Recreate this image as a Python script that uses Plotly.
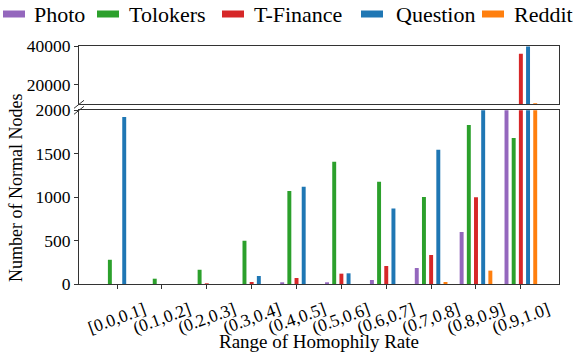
import plotly.graph_objects as go

# homophily-rate bins
bins = ["[0.0,0.1]", "(0.1,0.2]", "(0.2,0.3]", "(0.3,0.4]", "(0.4,0.5]",
        "(0.5,0.6]", "(0.6,0.7]", "(0.7,0.8]", "(0.8,0.9]", "(0.9,1.0]"]

# normal-node counts per dataset
photo = [0, 0, 0, 0, 15, 15, 46, 184, 599, 5000]
tolokers = [279, 61, 164, 497, 1071, 1409, 1178, 1002, 1831, 1682]
tfinance = [0, 0, 5, 23, 69, 119, 207, 334, 998, 36000]
question = [1923, 0, 0, 92, 1120, 123, 868, 1547, 2500, 39800]
reddit = [0, 0, 0, 0, 0, 0, 0, 23, 154, 10500]

names = ["Photo", "Tolokers", "T-Finance", "Question", "Reddit"]
colors = ["#9467bd", "#2ca02c", "#d62728", "#1f77b4", "#ff7f0e"]
series = [photo, tolokers, tfinance, question, reddit]

low_ticks = [0, 500, 1000, 1500, 2000]
high_ticks = [20000, 40000]

W, H = 578, 358
L, R, T, B = 79, 19, 46, 74
PW, PH = W - L - R, H - T - B
FONT = "Liberation Serif, Times New Roman, Tinos, DejaVu Serif, serif"
EDGE = "#333333"


def px_x(x):
    return (x - L) / PW


def px_y(y):
    return (H - B - y) / PH


fig = go.Figure()
for name, col, vals in zip(names, colors, series):
    for xa, ya in (("x", "y"), ("x2", "y2")):
        fig.add_trace(go.Bar(x=bins, y=vals, name=name, marker_color=col,
                             marker_line_width=0, xaxis=xa, yaxis=ya,
                             showlegend=False, hoverinfo="skip"))

xrange = [-0.848, 9.85]
axis_common = dict(showline=True, linecolor=EDGE, linewidth=1, mirror=True,
                   showgrid=False, zeroline=False)

fig.update_layout(
    width=W, height=H,
    margin=dict(l=L, r=R, t=T, b=B),
    plot_bgcolor="white", paper_bgcolor="white",
    barmode="group", bargap=0.2, bargroupgap=0.45,
    font=dict(family=FONT, size=17, color="black"),
    xaxis=dict(anchor="y", type="category", range=xrange, showticklabels=False,
               ticks="outside", ticklen=4, tickcolor=EDGE, **axis_common),
    xaxis2=dict(anchor="y2", type="category", range=xrange, matches="x",
                showticklabels=False, ticks="", **axis_common),
    yaxis=dict(anchor="x", domain=[0, px_y(110.3)], range=[0, 2000],
               tickvals=low_ticks, tickformat="d", ticks="outside", ticklen=4,
               tickcolor=EDGE, tickfont=dict(family=FONT, size=17.5), **axis_common),
    yaxis2=dict(anchor="x2", domain=[px_y(104.3), 1], range=[10000, 40000],
                tickvals=high_ticks, tickformat="d", ticks="outside", ticklen=4,
                tickcolor=EDGE, tickfont=dict(family=FONT, size=17.5), **axis_common),
)

# x tick labels, rotated and centred under each tick
for b in bins:
    fig.add_annotation(x=b, y=0, xref="x", yref="paper", text=b, showarrow=False,
                       textangle=-20, xanchor="center", yanchor="top", yshift=-12,
                       font=dict(family=FONT, size=17.5))

fig.add_annotation(x=0.5, y=0, xref="paper", yref="paper", yshift=-57,
                   text="Range of Homophily Rate", showarrow=False,
                   xanchor="center", yanchor="middle", font=dict(family=FONT, size=19))
fig.add_annotation(x=px_x(16), y=px_y(188), xref="paper", yref="paper",
                   text="Number of Normal Nodes", showarrow=False, textangle=-90,
                   xanchor="center", yanchor="middle", font=dict(family=FONT, size=18))

# broken-axis marks on the left spine
for yb in (104.3, 110.3):
    fig.add_shape(type="line", xref="paper", yref="paper",
                  x0=px_x(L - 5), y0=px_y(yb + 4), x1=px_x(L + 5), y1=px_y(yb - 4),
                  line=dict(color=EDGE, width=1))

# legend row drawn by hand (matplotlib-style wide patches)
swatch_x = [3, 97, 222, 361, 482]
text_x = [32, 127, 252, 394, 512]
for name, col, sx, tx in zip(names, colors, swatch_x, text_x):
    fig.add_shape(type="rect", xref="paper", yref="paper",
                  x0=px_x(sx), x1=px_x(sx + 22), y0=px_y(17.5), y1=px_y(10.5),
                  fillcolor=col, line=dict(width=0))
    fig.add_annotation(x=px_x(tx), y=px_y(14), xref="paper", yref="paper",
                       text=name, showarrow=False, xanchor="left", yanchor="middle",
                       font=dict(family=FONT, size=22))

# drop the default 8px page margin so the figure sits at (0, 0)
fig.write_html("out.html", config={"displayModeBar": False},
               post_script="document.body.style.margin='0';")
